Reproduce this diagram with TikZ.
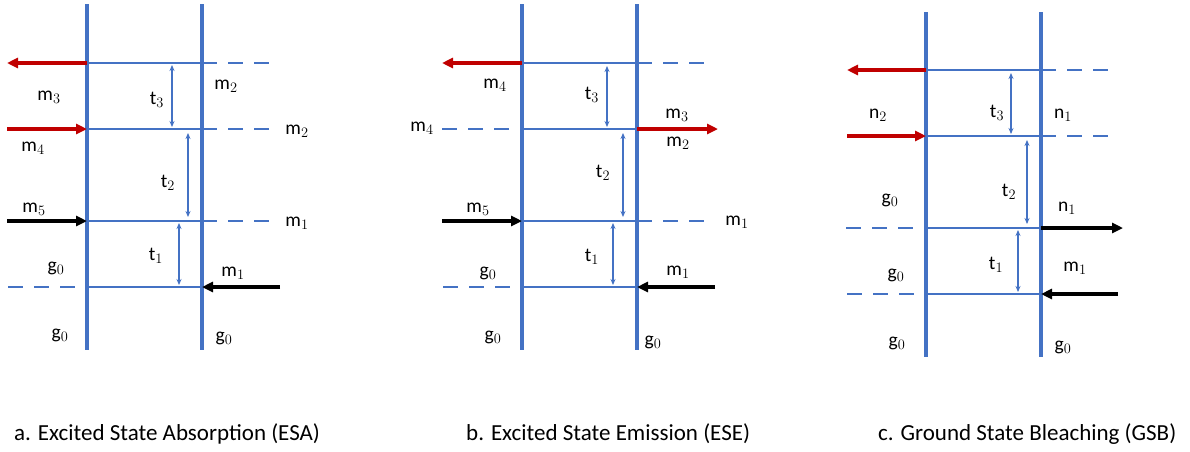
\documentclass[tikz,border=0pt]{standalone}
\usepackage{fontspec}
\setmainfont{Carlito}
\usetikzlibrary{arrows.meta}
\definecolor{lvlblue}{HTML}{4472C4}
\definecolor{pumpred}{HTML}{C00000}

\begin{document}
\begin{tikzpicture}[
        x=1pt, y=-1pt,
        rail/.style={draw=lvlblue, line width=3.6pt},
        lvl/.style={draw=lvlblue, line width=2.9pt},
        dlvl/.style={lvl, dash pattern=on 15pt off 11pt},
        redarr/.style={draw=pumpred, line width=3.2pt, -{Triangle[length=11pt, width=10pt]}},
        blkarr/.style={redarr, draw=black},
        gap/.style={draw=lvlblue, line width=1.3pt, {Stealth[length=6pt, width=5pt]}-{Stealth[length=6pt, width=5pt]}},
        lab/.style={font=\fontsize{19.5}{23}\selectfont, inner sep=0pt},
        capt/.style={font=\fontsize{23}{27}\selectfont, anchor=base west, inner sep=0pt}
    ]
        \useasboundingbox (0,0) rectangle (1190,451);

        % a. ESA
        \foreach \n/\y in {0/287, 1/221, 2/129, 3/63} {
            \coordinate (aL\n) at (87,\y);
            \coordinate (aR\n) at (202,\y);
            \draw[lvl] (aL\n) -- (aR\n);
        }
        \draw[rail] (87,4) coordinate (aLt) -- (87,350) coordinate (aLb);
        \draw[rail] (202,4) coordinate (aRt) -- (202,350) coordinate (aRb);
        \coordinate (aW3) at (7,63);   \coordinate (aE3) at (275,63);
        \coordinate (aW2) at (7,129);  \coordinate (aE2) at (275,129);
        \coordinate (aW1) at (7,221);  \coordinate (aE1) at (275,221);
        \coordinate (aW0) at (8,287);  \coordinate (aD0) at (78,287);  \coordinate (aE0) at (280,287);
        \draw[redarr] (aL3) -- (aW3);
        \draw[redarr] (aW2) -- (aL2);
        \draw[blkarr] (aW1) -- (aL1);
        \draw[blkarr] (aE0) -- (aR0);
        \draw[dlvl] (aR3) -- (aE3);
        \draw[dlvl] (aR2) -- (aE2);
        \draw[dlvl] (aR1) -- (aE1);
        \draw[dlvl] (aW0) -- (aD0);
        \draw[gap] (172,65) coordinate (at3a) -- (172,127) coordinate (at3b);
        \draw[gap] (188,133) coordinate (at2a) -- (188,217) coordinate (at2b);
        \draw[gap] (179,223) coordinate (at1a) -- (179,285) coordinate (at1b);
        \node[lab] (am3) at (49,97) {$\mathrm{m}_3$};
        \node[lab] (am4) at (33,148) {$\mathrm{m}_4$};
        \node[lab] (am5) at (34,209) {$\mathrm{m}_5$};
        \node[lab] (ag0a) at (56,268) {$\mathrm{g}_0$};
        \node[lab] (ag0b) at (60,335) {$\mathrm{g}_0$};
        \node[lab] (am2a) at (226,86) {$\mathrm{m}_2$};
        \node[lab] (am2b) at (297,131) {$\mathrm{m}_2$};
        \node[lab] (am1a) at (297,223) {$\mathrm{m}_1$};
        \node[lab] (am1b) at (233,273) {$\mathrm{m}_1$};
        \node[lab] (ag0c) at (224,338) {$\mathrm{g}_0$};
        \node[lab] (at3) at (157,100) {$\mathrm{t}_3$};
        \node[lab] (at2) at (168,183) {$\mathrm{t}_2$};
        \node[lab] (at1) at (156,256) {$\mathrm{t}_1$};

        % b. ESE
        \foreach \n/\y in {0/287, 1/221, 2/129, 3/63} {
            \coordinate (bL\n) at (522,\y);
            \coordinate (bR\n) at (637,\y);
            \draw[lvl] (bL\n) -- (bR\n);
        }
        \draw[rail] (522,4) coordinate (bLt) -- (522,350) coordinate (bLb);
        \draw[rail] (637,4) coordinate (bRt) -- (637,350) coordinate (bRb);
        \coordinate (bW3) at (442,63);  \coordinate (bE3) at (710,63);
        \coordinate (bW2) at (442,129); \coordinate (bD2) at (512,129); \coordinate (bE2) at (718,129);
        \coordinate (bW1) at (442,221); \coordinate (bE1) at (707,221);
        \coordinate (bW0) at (443,287); \coordinate (bD0) at (512,287); \coordinate (bE0) at (715,287);
        \draw[redarr] (bL3) -- (bW3);
        \draw[redarr] (bR2) -- (bE2);
        \draw[blkarr] (bW1) -- (bL1);
        \draw[blkarr] (bE0) -- (bR0);
        \draw[dlvl] (bR3) -- (bE3);
        \draw[dlvl] (bW2) -- (bD2);
        \draw[dlvl] (bR1) -- (bE1);
        \draw[dlvl] (bW0) -- (bD0);
        \draw[gap] (607,66) coordinate (bt3a) -- (607,127) coordinate (bt3b);
        \draw[gap] (623,133) coordinate (bt2a) -- (623,217) coordinate (bt2b);
        \draw[gap] (613,223) coordinate (bt1a) -- (613,285) coordinate (bt1b);
        \node[lab] (bm4a) at (495,85) {$\mathrm{m}_4$};
        \node[lab] (bm4b) at (422,128) {$\mathrm{m}_4$};
        \node[lab] (bm3) at (677,115) {$\mathrm{m}_3$};
        \node[lab] (bm2) at (678,143) {$\mathrm{m}_2$};
        \node[lab] (bm5) at (478,209) {$\mathrm{m}_5$};
        \node[lab] (bm1a) at (737,222) {$\mathrm{m}_1$};
        \node[lab] (bg0a) at (488,273) {$\mathrm{g}_0$};
        \node[lab] (bm1b) at (678,272) {$\mathrm{m}_1$};
        \node[lab] (bg0b) at (493,337) {$\mathrm{g}_0$};
        \node[lab] (bg0c) at (653,342) {$\mathrm{g}_0$};
        \node[lab] (bt3) at (592,95) {$\mathrm{t}_3$};
        \node[lab] (bt2) at (603,173) {$\mathrm{t}_2$};
        \node[lab] (bt1) at (592,257) {$\mathrm{t}_1$};

        % c. GSB
        \foreach \n/\y in {0/294, 1/228, 2/136, 3/70} {
            \coordinate (cL\n) at (926,\y);
            \coordinate (cR\n) at (1041,\y);
            \draw[lvl] (cL\n) -- (cR\n);
        }
        \draw[rail] (926,12) coordinate (cLt) -- (926,357) coordinate (cLb);
        \draw[rail] (1041,12) coordinate (cRt) -- (1041,357) coordinate (cRb);
        \coordinate (cW3) at (847,70);  \coordinate (cE3) at (1113,70);
        \coordinate (cW2) at (847,136); \coordinate (cE2) at (1112,136);
        \coordinate (cW1) at (846,228); \coordinate (cD1) at (916,228); \coordinate (cE1) at (1123,228);
        \coordinate (cW0) at (847,294); \coordinate (cD0) at (917,294); \coordinate (cE0) at (1118,294);
        \draw[redarr] (cL3) -- (cW3);
        \draw[redarr] (cW2) -- (cL2);
        \draw[blkarr] (cR1) -- (cE1);
        \draw[blkarr] (cE0) -- (cR0);
        \draw[dlvl] (cR3) -- (cE3);
        \draw[dlvl] (cR2) -- (cE2);
        \draw[dlvl] (cW1) -- (cD1);
        \draw[dlvl] (cW0) -- (cD0);
        \draw[gap] (1011,73) coordinate (ct3a) -- (1011,134) coordinate (ct3b);
        \draw[gap] (1027,140) coordinate (ct2a) -- (1027,224) coordinate (ct2b);
        \draw[gap] (1018,230) coordinate (ct1a) -- (1018,292) coordinate (ct1b);
        \node[lab] (cn2) at (878,115) {$\mathrm{n}_2$};
        \node[lab] (cn1a) at (1063,115) {$\mathrm{n}_1$};
        \node[lab] (cg0a) at (890,200) {$\mathrm{g}_0$};
        \node[lab] (cn1b) at (1067,208) {$\mathrm{n}_1$};
        \node[lab] (cg0b) at (896,275) {$\mathrm{g}_0$};
        \node[lab] (cm1) at (1075,268) {$\mathrm{m}_1$};
        \node[lab] (cg0c) at (897,343) {$\mathrm{g}_0$};
        \node[lab] (cg0d) at (1063,347) {$\mathrm{g}_0$};
        \node[lab] (ct3) at (997,113) {$\mathrm{t}_3$};
        \node[lab] (ct2) at (1009,192) {$\mathrm{t}_2$};
        \node[lab] (ct1) at (996,265) {$\mathrm{t}_1$};

        % captions
        \node[capt] (capa) at (14,440) {a. Excited State Absorption (ESA)};
        \node[capt] (capb) at (466,440) {b. Excited State Emission (ESE)};
        \node[capt] (capc) at (878,440) {c. Ground State Bleaching (GSB)};
    \end{tikzpicture}
\end{document}
